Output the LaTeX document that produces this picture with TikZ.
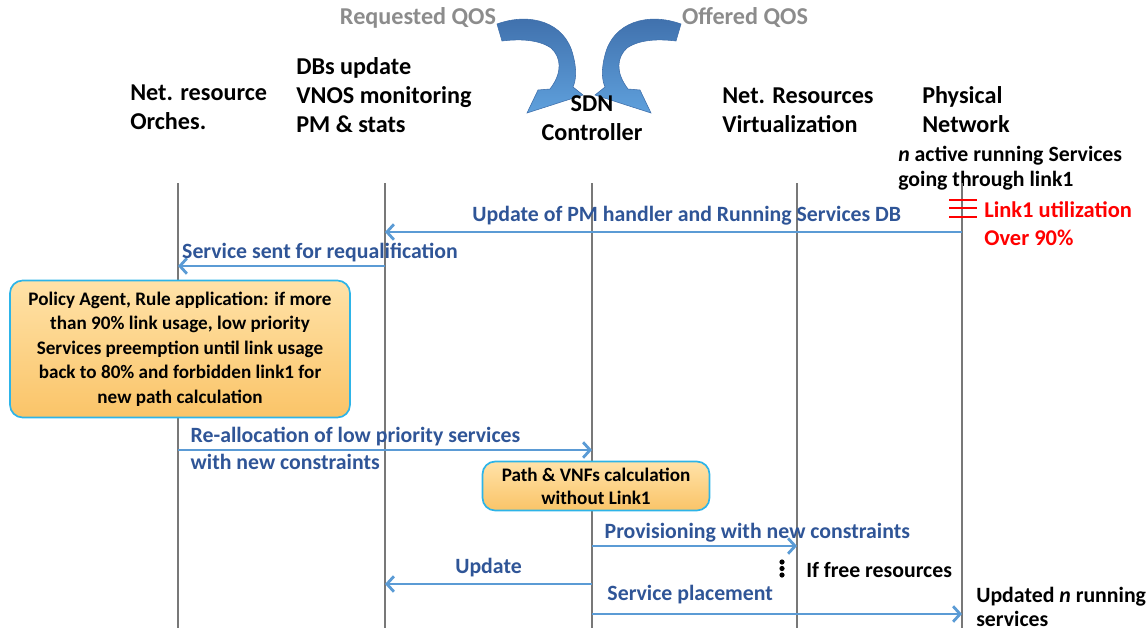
\documentclass[tikz,border=0pt]{standalone}
\usepackage{fontspec}
\setmainfont{Carlito}
\usetikzlibrary{arrows.meta,positioning}

\definecolor{lifegray}{RGB}{120,120,120}
\definecolor{msgblue}{RGB}{91,155,213}
\definecolor{msgtext}{RGB}{47,85,151}
\definecolor{qosgray}{RGB}{140,140,140}
\definecolor{qosdark}{RGB}{62,110,170}
\definecolor{qoslight}{RGB}{95,160,220}
\definecolor{boxtop}{RGB}{255,226,168}
\definecolor{boxbot}{RGB}{250,196,104}
\definecolor{boxedge}{RGB}{45,180,232}
\definecolor{alarmred}{RGB}{255,0,0}

% curved QOS arrow, pixel coordinates
\newcommand{\qosarrow}{(497,24) .. controls (530,12) and (565,22) .. (573,55)
    .. controls (577,70) and (576,80) .. (573,87) -- (583,95) -- (527,113) -- (538,90) -- (550,89)
    .. controls (563,72) and (561,57) .. (551,48) .. controls (538,39) and (518,39) .. (502,41) -- cycle}

\begin{document}
\begin{tikzpicture}
      [%%%%%%%%%%%%%%%%%%%%%%%%%%%%%%
          x=0.025cm, y=-0.025cm,
          head/.style={font=\fontsize{17.2}{20.6}\selectfont\bfseries, inner sep=0pt},
          life/.style={draw=lifegray, line width=2pt},
          msg/.style={draw=msgblue, line width=2pt, -{Straight Barb[length=5pt,width=11pt,line width=2pt]}},
          msglabel/.style={text=msgtext, font=\fontsize{15.5}{17.8}\selectfont\bfseries, inner sep=2pt},
          note/.style={font=\fontsize{15.5}{17.5}\selectfont\bfseries, inner sep=0pt},
          rulebox/.style={rectangle, rounded corners=9pt, draw=boxedge, line width=1.2pt,
                          top color=boxtop, bottom color=boxbot, align=center,
                          font=\fontsize{13.6}{17.5}\selectfont\bfseries},
          alarm/.style={draw=alarmred, line width=2pt}
      ]%%%%%%%%%%%%%%%%%%%%%%%%%%%%%%

  \useasboundingbox (0,0) rectangle (1148,632);

  % QOS arrows
  \node[head, text=qosgray] (reqqos) at (418,18) {Requested QOS};
  \node[head, text=qosgray] (offqos) at (745,18) {Offered QOS};
  \shade[top color=qosdark, bottom color=qoslight, draw=qosdark, line width=0.4pt] \qosarrow;
  \begin{scope}[shift={(1178,0)}, xscale=-1]
    \shade[top color=qosdark, bottom color=qoslight, draw=qosdark, line width=0.4pt] \qosarrow;
  \end{scope}

  % headers
  \node[head, anchor=west, align=left] (orch) at (130,107) {Net. resource\\Orches.};
  \node[head, anchor=west, align=left] (dbs) at (296,95) {DBs update\\VNOS monitoring\\PM \& stats};
  \node[head, align=center] (sdn) at (592,118) {SDN\\Controller};
  \node[head, anchor=west, align=left] (nrv) at (722,110) {Net. Resources\\Virtualization};
  \node[head, anchor=west, align=left] (phys) at (922,110) {Physical\\Network};
  \node[note, anchor=west, align=left] (active) at (898,168) {\textit{n} active running Services\\going through link1};

  % lifelines
  \foreach \n/\x in {orch/178, dbs/385, sdn/592, nrv/797, phys/962}{
      \coordinate (\n-top) at (\x,183);
      \coordinate (\n-bot) at (\x,628);
      \draw[life] (\n-top) -- (\n-bot);
  }

  % link1 alarm
  \foreach \y in {200,208,217}
      \draw[alarm] (949,\y) -- (977,\y);
  \node[note, text=alarmred, anchor=west, align=left, font=\fontsize{16}{20}\selectfont\bfseries] (linkone) at (984,224) {Link1 utilization\\Over 90\%};

  % message levels
  \coordinate (m1) at (0,232);
  \coordinate (m2) at (0,266);
  \coordinate (m3) at (0,450);
  \coordinate (m4) at (0,546);
  \coordinate (m5) at (0,584);
  \coordinate (m6) at (0,614);

  \draw[msg] (phys-top |- m1) -- node[msglabel, above=2pt, pos=0.477] {Update of PM handler and Running Services DB} (dbs-top |- m1);
  \draw[msg] (dbs-top |- m2) -- node[msglabel, above right, pos=1] {Service sent for requalification} (orch-top |- m2);

  \node[rulebox, minimum width=340*0.025cm, minimum height=137*0.025cm] (policy) at (180,349)
      {Policy Agent, Rule application: if more\\than 90\% link usage, low priority\\Services preemption until link usage\\back to 80\% and forbidden link1 for\\new path calculation};

  \draw[msg] (orch-top |- m3) -- node[msglabel, above right, pos=0, xshift=6pt] {Re-allocation of low priority services}
                                 node[msglabel, below right, pos=0, xshift=6pt] {with new constraints} (sdn-top |- m3);

  \node[rulebox, minimum width=227*0.025cm, minimum height=49*0.025cm, font=\fontsize{13.6}{16.5}\selectfont\bfseries] (pathcalc) at (596,486)
      {Path \& VNFs calculation\\without Link1};

  \draw[msg] (sdn-top |- m4) -- node[msglabel, above right, pos=0, xshift=6pt] {Provisioning with new constraints} (nrv-top |- m4);

  \foreach \y in {562,568.5,575}
      \fill (782,\y) circle (2.6);
  \node[note, anchor=west] (freeres) at (806,570) {If free resources};

  \draw[msg] (sdn-top |- m5) -- node[msglabel, above=2pt, midway] {Update} (dbs-top |- m5);
  \draw[msg] (sdn-top |- m6) -- node[msglabel, above right, pos=0, xshift=8pt, yshift=4pt] {Service placement} (phys-top |- m6);

  \node[note, anchor=west, align=left] (updated) at (976,607) {Updated \textit{n} running\\ services};

\end{tikzpicture}
\end{document}
